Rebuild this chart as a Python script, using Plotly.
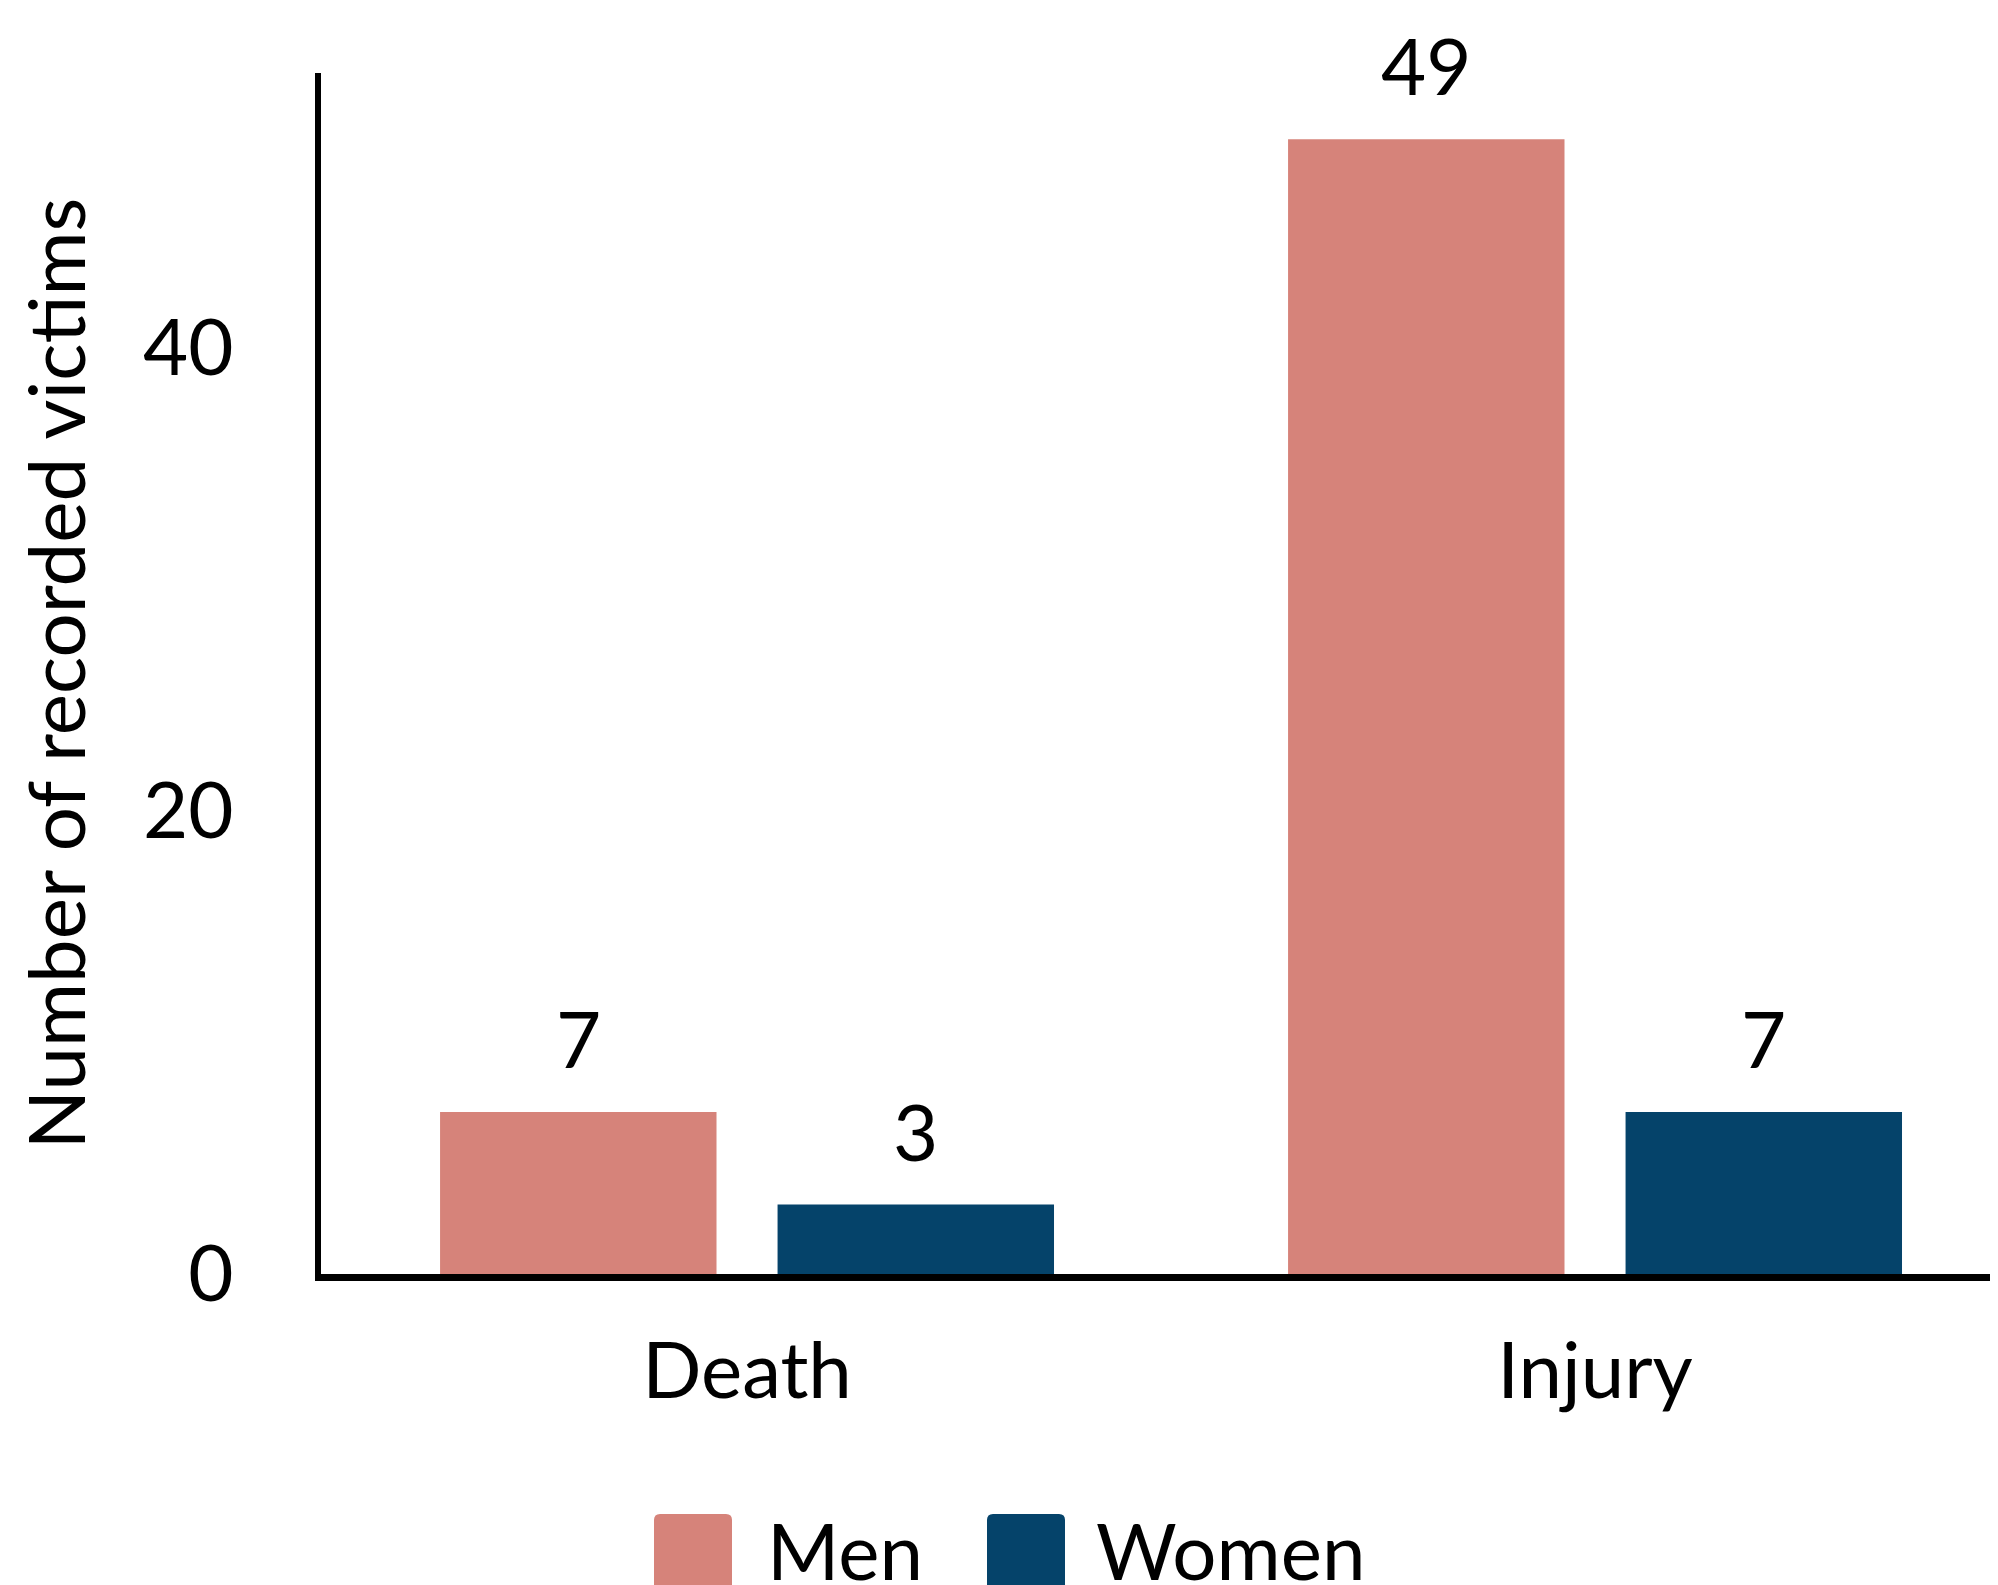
import plotly.graph_objects as go

categories = ["Death", "Injury"]
men = [7, 49]
women = [3, 7]
series_names = ["Men", "Women"]
y_ticks = [0, 20, 40]

MEN_COLOR = "#d6837a"
WOMEN_COLOR = "#05436a"
FONT = "Lato"
FS = 78

# the page adds an 8px body margin, so the figure is 8px smaller than the window
PAGE_OFF = 8
W, H = 1998 - PAGE_OFF, 1585 - PAGE_OFF
ML, MR, MT, MB = 313, 0, 65, 311
PW, PH = W - ML - MR, H - MT - MB

BAR_W = 0.326
OFFSETS = [-0.362, 0.036]

x_idx = list(range(len(categories)))

fig = go.Figure()
for name, vals, color, off in zip(series_names, [men, women],
                                  [MEN_COLOR, WOMEN_COLOR], OFFSETS):
    fig.add_trace(go.Bar(
        x=x_idx, y=vals, name=name,
        width=BAR_W, offset=off,
        marker=dict(color=color, line=dict(width=0)),
        showlegend=False, hoverinfo="skip",
    ))
    # value labels above bars
    for i, v in zip(x_idx, vals):
        fig.add_annotation(
            x=i + off + BAR_W / 2, y=v, text=str(v),
            showarrow=False, yanchor="bottom", yshift=25,
            font=dict(family=FONT, size=FS, color="black"),
        )

# manual legend with large rounded keys (positions given in page pixels)
def px_x(p):
    return (p - PAGE_OFF - ML) / PW

def px_y(p):
    return (H - MB - (p - PAGE_OFF)) / PH

def rounded(x0, x1, y0, y1, rx, ry):
    return (f"M{x0+rx},{y0} L{x1-rx},{y0} Q{x1},{y0} {x1},{y0-ry} "
            f"L{x1},{y1+ry} Q{x1},{y1} {x1-rx},{y1} L{x0+rx},{y1} "
            f"Q{x0},{y1} {x0},{y1+ry} L{x0},{y0-ry} Q{x0},{y0} {x0+rx},{y0} Z")

legend_items = [(series_names[0], MEN_COLOR, 654, 765),
                (series_names[1], WOMEN_COLOR, 987, 1094)]
for name, color, kx, tx in legend_items:
    fig.add_shape(
        type="path", xref="paper", yref="paper",
        path=rounded(px_x(kx), px_x(kx + 78), px_y(1514), px_y(1600),
                     6 / PW, 6 / PH),
        fillcolor=color, line=dict(width=0), layer="above",
    )
    fig.add_annotation(
        x=px_x(tx), y=px_y(1501), xref="paper", yref="paper",
        text=name, showarrow=False, xanchor="left", yanchor="top",
        font=dict(family=FONT, size=FS, color="black"),
    )

fig.update_layout(
    width=W, height=H,
    margin=dict(l=ML, r=MR, t=MT, b=MB, autoexpand=False),
    plot_bgcolor="white", paper_bgcolor="white",
    font=dict(family=FONT, size=FS, color="black"),
    showlegend=False,
    barmode="group",
)
fig.update_xaxes(
    range=[-0.5024, 1.4752],
    tickmode="array", tickvals=x_idx, ticktext=categories,
    showline=True, linecolor="black", linewidth=7,
    showgrid=False, zeroline=False, ticks="",
    ticklabelstandoff=23,
    tickfont=dict(family=FONT, size=FS, color="black"),
)
fig.update_yaxes(
    range=[0, 51.86],
    tickmode="array", tickvals=y_ticks,
    showline=True, linecolor="black", linewidth=6,
    showgrid=False, zeroline=False, ticks="",
    ticklabelstandoff=66,
    tickfont=dict(family=FONT, size=FS, color="black"),
    title=dict(text="Number of recorded victims", standoff=37,
               font=dict(family=FONT, size=FS, color="black")),
)

fig.write_html("out.html")
